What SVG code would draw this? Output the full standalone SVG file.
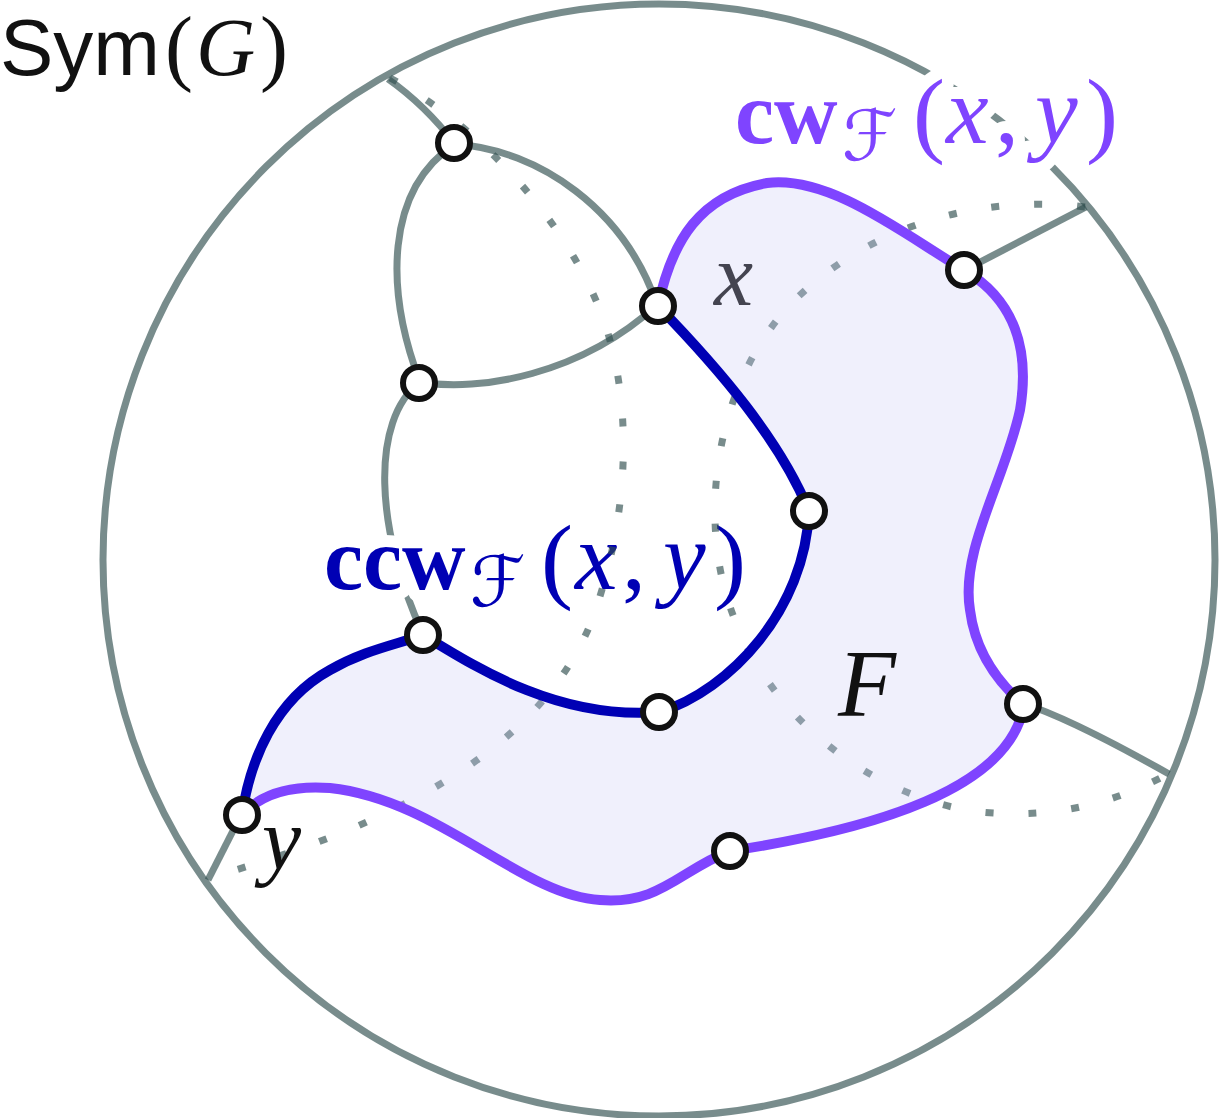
<svg xmlns="http://www.w3.org/2000/svg" xmlns:xlink="http://www.w3.org/1999/xlink" width="1219" height="1118" viewBox="0 0 1219 1118">
<style>
.gray{fill:none;stroke:#2F4F4F;stroke-opacity:0.65;stroke-width:7}
.dot{fill:none;stroke:#2F4F4F;stroke-opacity:0.65;stroke-width:7;stroke-dasharray:8 35}
.cw{fill:none;stroke:#7F44FF;stroke-width:10;stroke-linejoin:round}
.ccw{fill:none;stroke:#0000B4;stroke-width:10;stroke-linejoin:round}
.node{fill:#fff;stroke:#111;stroke-width:6}
.serif{font-family:"Liberation Serif","DejaVu Serif",serif}
.it{font-style:italic}
.bold{font-weight:bold}
.script{font-family:"DejaVu Serif","DejaVu Sans",serif}
.halo{fill:#fff;stroke:#fff;stroke-width:24;stroke-linejoin:round}
</style>
<defs>
<g id="cw-text" class="serif">
<text x="735" y="143" font-size="88" class="bold">cw</text>
<text x="842" y="160" font-size="70" class="script">ℱ</text>
<text x="913" y="145" font-size="96">(</text>
<text x="946" y="143" font-size="96" class="it">x</text>
<text x="995" y="143" font-size="96">,</text>
<text x="1035" y="143" font-size="96" class="it">y</text>
<text x="1086" y="145" font-size="96">)</text>
</g>
<g id="ccw-text" class="serif">
<text x="324" y="589" font-size="88" class="bold">ccw</text>
<text x="470" y="606" font-size="70" class="script">ℱ</text>
<text x="541" y="591" font-size="96">(</text>
<text x="575" y="589" font-size="96" class="it">x</text>
<text x="622" y="589" font-size="96">,</text>
<text x="663" y="589" font-size="96" class="it">y</text>
<text x="714" y="591" font-size="96">)</text>
</g>
</defs>
<g id="connectors">
<circle class="gray" cx="659" cy="560" r="556"/>
<path class="gray" d="M388,79 Q425,105 455,144"/>
<path class="gray" d="M455,144 C540,150 625,210 657,305"/>
<path class="gray" d="M455,144 C385,190 385,290 420,382"/>
<path class="gray" d="M420,382 C480,392 580,375 657,305"/>
<path class="gray" d="M420,382 C370,420 375,530 423,634"/>
<path class="gray" d="M963,271 L1086,207"/>
<path class="gray" d="M1022,703 C1050,712 1100,735 1169,774"/>
<path class="gray" d="M241,815 L208,880"/>
</g>
<g id="label-cw">
<use href="#cw-text" xlink:href="#cw-text" class="halo"/>
<use href="#cw-text" xlink:href="#cw-text" fill="#7F44FF"/>
</g>
<g id="label-ccw">
<use href="#ccw-text" xlink:href="#ccw-text" class="halo"/>
<use href="#ccw-text" xlink:href="#ccw-text" fill="#0000B4"/>
</g>
<g id="title">
<text x="0" y="75" font-size="80" font-family="Liberation Sans, Arial, sans-serif" fill="#111">Sym</text>
<text x="165" y="75" font-size="84" class="serif" fill="#111">(</text>
<text x="196" y="75" font-size="82" class="serif it" fill="#111">G</text>
<text x="260" y="75" font-size="84" class="serif" fill="#111">)</text>
</g>
<g id="label-x"><text x="714" y="305" font-size="88" class="serif it" fill="#111">x</text></g>
<g id="dual">
<path class="dot" d="M390,78 C470,120 560,210 600,310 C635,400 630,520 590,625 C550,720 450,810 208,878"/>
<path class="dot" d="M1085,207 C990,195 880,220 800,295 C720,370 700,500 725,590 C760,720 880,800 980,812 C1060,820 1120,800 1170,773"/>
</g>
<g id="face-F">
<path fill="#C9C9F4" fill-opacity="0.28" d="M658,306 C672,240 700,195 767,183 C830,175 905,235 964,270 C1015,300 1030,350 1020,410 C1005,480 960,550 970,610 C975,650 995,680 1024,705 C1010,790 870,830 730,851 C680,870 660,905 600,900 C520,895 440,800 330,788 C290,785 260,795 242,815 C250,760 275,700 330,670 C365,650 395,645 423,635 C480,670 560,720 660,712 C730,690 805,610 809,511 C780,440 720,370 658,306 Z"/>
<path class="cw" d="M658,306 C672,240 700,195 767,183 C830,175 905,235 964,270 C1015,300 1030,350 1020,410 C1005,480 960,550 970,610 C975,650 995,680 1024,705 C1010,790 870,830 730,851 C680,870 660,905 600,900 C520,895 440,800 330,788 C290,785 260,795 242,815"/>
<path class="ccw" d="M242,815 C250,760 275,700 330,670 C365,650 395,645 423,635 C480,670 560,720 660,712 C730,690 805,610 809,511 C780,440 720,370 658,306"/>
</g>
<g id="nodes">
<g id="node-A"><circle class="node" cx="454" cy="143" r="16"/></g>
<g id="node-X"><circle class="node" cx="658" cy="306" r="16"/></g>
<g id="node-B"><circle class="node" cx="419" cy="383" r="16"/></g>
<g id="node-C"><circle class="node" cx="964" cy="270" r="16"/></g>
<g id="node-D"><circle class="node" cx="809" cy="511" r="16"/></g>
<g id="node-E"><circle class="node" cx="423" cy="635" r="16"/></g>
<g id="node-Fv"><circle class="node" cx="659" cy="712" r="16"/></g>
<g id="node-G"><circle class="node" cx="1023" cy="704" r="16"/></g>
<g id="node-H"><circle class="node" cx="730" cy="851" r="16"/></g>
<g id="node-Y"><circle class="node" cx="242" cy="815" r="16"/></g>
</g>
<g id="label-F"><text x="838" y="716" font-size="95" class="serif it" fill="#111">F</text></g>
<g id="label-y"><text x="262" y="869" font-size="88" class="serif it" fill="#111">y</text></g>
</svg>
